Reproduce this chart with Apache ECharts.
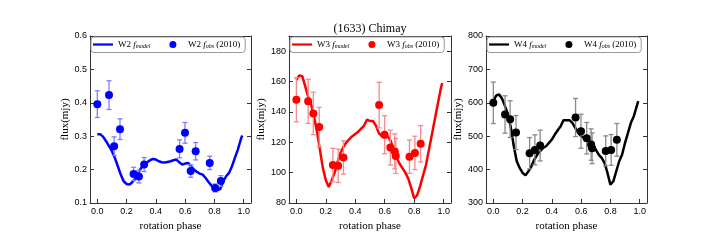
<!DOCTYPE html>
<html><head><meta charset="utf-8">
<script src="https://cdn.jsdelivr.net/npm/echarts@6/dist/echarts.min.js"></script>
<style>html,body{margin:0;padding:0;background:#fff}#c{width:720px;height:240px}</style>
</head><body><div id="c"></div>
<script>
// ---- data ----
const modelPhase = [0,0.02,0.04,0.06,0.08,0.10,0.12,0.14,0.16,0.18,0.20,0.22,0.24,0.26,0.28,0.30,0.32,0.34,0.36,0.38,0.40,0.42,0.44,0.46,0.48,0.50,0.52,0.54,0.56,0.58,0.60,0.62,0.64,0.66,0.68,0.70,0.72,0.74,0.76,0.78,0.80,0.82,0.84,0.86,0.88,0.90,0.92,0.94,0.96,0.98,0.99];
const w2Model = [0.306,0.306,0.298,0.285,0.270,0.255,0.235,0.210,0.185,0.165,0.157,0.155,0.163,0.175,0.190,0.205,0.213,0.222,0.228,0.232,0.230,0.225,0.222,0.221,0.223,0.225,0.228,0.230,0.222,0.215,0.218,0.220,0.210,0.200,0.193,0.188,0.185,0.175,0.163,0.152,0.143,0.138,0.142,0.165,0.180,0.190,0.210,0.235,0.260,0.290,0.302];
const w3Model = [161,164,163.5,157,150,145,137,127,115,103,95,90.5,95,100,107,113,117,120,122,124,125.5,127,129,131,135,134,134,131,126,124,123,124,121,115,110,106,103,100,96,90,83,85,91,98,105,115,125,135,145,155,159];
const w4Model = [605,622,625,612,590,565,525,470,425,405,390,383,395,410,430,445,455,465,470,480,490,505,518,530,548,548,548,540,525,510,500,495,492,485,475,460,445,435,420,390,355,365,395,425,445,480,510,540,560,590,605];

const w2Phase = [0,0.08,0.115,0.155,0.248,0.284,0.32,0.562,0.599,0.638,0.672,0.768,0.805,0.844];
const w2Obs = [0.396,0.423,0.270,0.321,0.187,0.179,0.215,0.262,0.310,0.196,0.255,0.220,0.145,0.166];
const w2Err = [0.040,0.043,0.028,0.031,0.020,0.019,0.021,0.027,0.031,0.019,0.026,0.020,0.012,0.016];

const obsPhase = [0,0.08,0.115,0.155,0.248,0.284,0.32,0.562,0.599,0.638,0.668,0.675,0.768,0.805,0.844];
const w3Obs = [148,147,139,130,105,104.5,110,144.5,125,116.5,114,111,110.5,113,119];
const w3Err = [14.5,14.5,14,13,11,11,11,15,12.5,11.5,11.5,11.5,11,11,12];
const w4Obs = [600,565,551,511,449,459,472,556,515,494,475,464,456,459,489];
const w4Err = [62,56,55,51,47,45,46,57,51,47,47,46,45,46,49];

const xTicks = [0,0.2,0.4,0.6,0.8,1.0];
const titleText = '(1633) Chimay';
const xName = 'rotation phase';
const yName = 'flux(mjy)';

// ---- layout ----
const panels = [
  {band:'W2', left:90, width:161, ymin:0.1, ymax:0.6, yint:0.1, dec:1, color:'#0000ff', ecolor:'#7f7fff', model:w2Model, phase:w2Phase, obs:w2Obs, err:w2Err, nameGap:16},
  {band:'W3', left:289, width:162, ymin:80, ymax:190, yint:20, dec:0, color:'#ff0000', ecolor:'#f58a8a', model:w3Model, phase:obsPhase, obs:w3Obs, err:w3Err, nameGap:20},
  {band:'W4', left:486, width:161, ymin:300, ymax:800, yint:100, dec:0, color:'#000000', ecolor:'#8a8a8a', model:w4Model, phase:obsPhase, obs:w4Obs, err:w4Err, nameGap:20}
];
const TOP = 36, H = 167;
const frame = '#333';
const tickFont = {fontFamily:'Liberation Sans', fontSize:9, color:'#000'};
const serif = 'Liberation Serif';
const lineIcon = 'path://M0,0 M0,2.4 L20,2.4 L20,4.6 L0,4.6 Z M20,7';

const grids=[], xAxes=[], yAxes=[], series=[], legends=[];
panels.forEach((p,i)=>{
  grids.push({left:p.left, top:TOP, width:p.width, height:H, containLabel:false});
  const xbase = {type:'value', gridIndex:i, min:-0.05, max:1.05,
    axisLine:{show:true, onZero:false, lineStyle:{color:frame, width:1}},
    splitLine:{show:false}};
  xAxes.push(Object.assign({}, xbase, {position:'bottom',
    name:xName, nameLocation:'middle', nameGap:11,
    nameTextStyle:{fontFamily:serif, fontSize:11, color:'#000'},
    axisTick:{show:true, inside:true, length:4, customValues:xTicks, lineStyle:{color:frame}},
    axisLabel:Object.assign({show:true, margin:4, customValues:xTicks, formatter:v=>v.toFixed(1)}, tickFont)}));
  xAxes.push(Object.assign({}, xbase, {position:'top',
    axisTick:{show:true, inside:true, length:4, customValues:xTicks, lineStyle:{color:frame}},
    axisLabel:{show:false}}));
  const ybase = {type:'value', gridIndex:i, min:p.ymin, max:p.ymax, interval:p.yint,
    axisLine:{show:true, onZero:false, lineStyle:{color:frame, width:1}},
    splitLine:{show:false}};
  yAxes.push(Object.assign({}, ybase, {position:'left',
    name:yName, nameLocation:'middle', nameGap:p.nameGap,
    nameTextStyle:{fontFamily:serif, fontSize:11, color:'#000'},
    axisTick:{show:true, inside:true, length:4, lineStyle:{color:frame}},
    axisLabel:Object.assign({show:true, margin:3, showMaxLabel: i!==1, formatter:v=>(+v).toFixed(p.dec)}, tickFont)}));
  yAxes.push(Object.assign({}, ybase, {position:'right',
    axisTick:{show:true, inside:true, length:4, lineStyle:{color:frame}},
    axisLabel:{show:false}}));

  const mName = p.band+' model', oName = p.band+' obs';
  series.push({type:'line', name:mName, xAxisIndex:2*i, yAxisIndex:2*i,
    data:modelPhase.map((x,k)=>[x,p.model[k]]), symbol:'none', smooth:false,
    lineStyle:{color:p.color, width:2.5}, itemStyle:{color:p.color}, z:3});
  series.push({type:'custom', name:p.band+' err', xAxisIndex:2*i, yAxisIndex:2*i,
    data:p.phase.map((x,k)=>[x,p.obs[k],p.err[k]]),
    renderItem:(params, api)=>{
      const x=api.value(0), y=api.value(1), e=api.value(2);
      const a=api.coord([x,y-e]), b=api.coord([x,y+e]);
      const c=2.5, st={stroke:p.ecolor, lineWidth:1.3};
      return {type:'group', children:[
        {type:'line', shape:{x1:a[0],y1:a[1],x2:b[0],y2:b[1]}, style:st},
        {type:'line', shape:{x1:a[0]-c,y1:a[1],x2:a[0]+c,y2:a[1]}, style:st},
        {type:'line', shape:{x1:b[0]-c,y1:b[1],x2:b[0]+c,y2:b[1]}, style:st}
      ]};
    }, z:4, silent:true});
  series.push({type:'scatter', name:oName, xAxisIndex:2*i, yAxisIndex:2*i,
    data:p.phase.map((x,k)=>[x,p.obs[k]]), symbol:'circle', symbolSize:8,
    itemStyle:{color:p.color, opacity:1}, z:5});

  legends.push({data:[{name:mName, icon:lineIcon},{name:oName, icon:'circle'}], left:p.left+1, top:TOP+1,
    orient:'horizontal', itemWidth:20, itemHeight:7, itemGap:19,
    padding:[3,5,3,2], borderColor:'#999', borderWidth:1, borderRadius:3, backgroundColor:'#fff',
    selectedMode:false,
    formatter:(n)=> n.endsWith('model') ? '{n|'+p.band+' }{i|f}{s|model}' : '{n|'+p.band+' }{i|f}{s|obs}{n| (2010)}',
    textStyle:{fontFamily:serif, fontSize:9, color:'#000', padding:[0,0,0,0],
      rich:{n:{fontFamily:serif, fontSize:9, color:'#000'},
            i:{fontFamily:serif, fontSize:9, fontStyle:'italic', color:'#000'},
            s:{fontFamily:serif, fontSize:6, fontStyle:'italic', color:'#000', padding:[4,0,0,0]}}}});
});

const chart = echarts.init(document.getElementById('c'), null, {renderer:'canvas'});
chart.setOption({
  animation:false,
  backgroundColor:'#fff',
  title:{text:titleText, left:370, top:23, textAlign:'center', padding:0,
    textStyle:{fontFamily:serif, fontSize:12, fontWeight:'normal', color:'#000'}},
  grid:grids, xAxis:xAxes, yAxis:yAxes, legend:legends, series:series
});
</script></body></html>
